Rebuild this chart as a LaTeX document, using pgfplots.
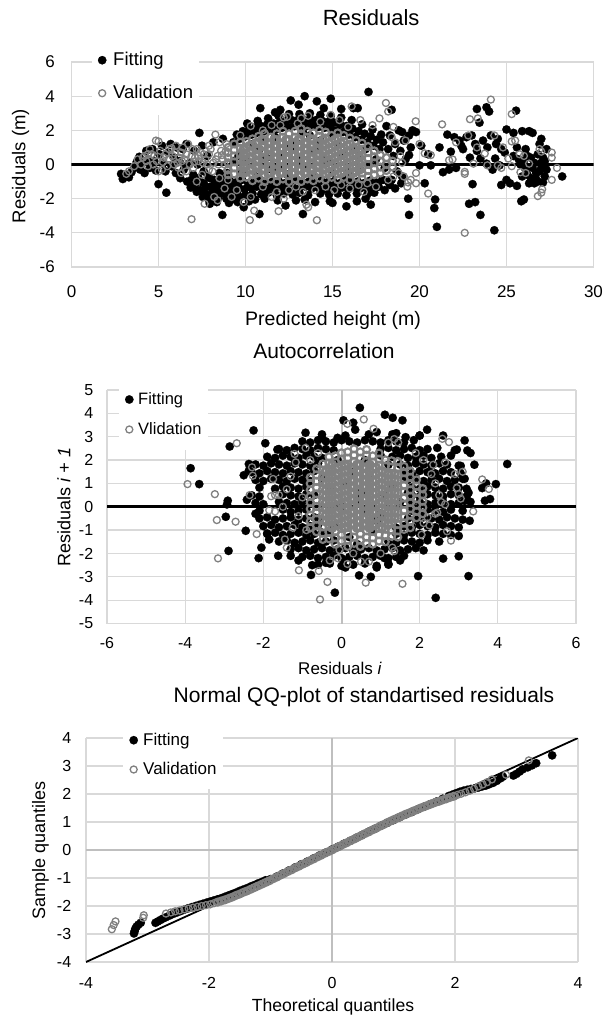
\documentclass[border=0pt]{standalone}
\usepackage{fontspec}
\setmainfont{Liberation Sans}
\usepackage{pgfplots}
\pgfplotsset{compat=1.18}
\definecolor{gridc}{RGB}{217,217,217}
\definecolor{valg}{RGB}{128,128,128}
\definecolor{axg}{RGB}{191,191,191}
\newcommand\fs[1]{\fontsize{#1}{#1}\selectfont}
\pgfplotsset{
  fitting/.style={only marks, mark=*, mark size=4.2pt, mark options={draw=black, fill=black, line width=0.2pt},
    legend image code/.code={\draw[##1] plot coordinates {(0pt,0pt)};}},
  validation/.style={only marks, mark=o, mark size=3.5pt, mark options={draw=valg, line width=1.3pt},
    legend image code/.code={\draw[##1] plot coordinates {(0pt,0pt)};}},
  valcore/.style={validation, forget plot, mark options={draw=valg, line width=2.1pt}},
  valcoreb/.style={validation, forget plot, mark size=3.6pt, mark options={draw=valg, line width=3pt}},
  myaxis/.style={scale only axis, axis line style={draw=none}, major tick length=0pt, tick style={draw=none},
    grid=major, major grid style={draw=gridc, line width=1.3pt},
    /pgf/number format/assume math mode=true, legend cell align=left},
}
\begin{document}
\begin{tikzpicture}
\path[use as bounding box] (0,0) rectangle (605pt,-1015pt);
%================ PANEL 1 =================
\begin{axis}[myaxis, at={(71.5pt,-267pt)}, anchor=south west, width=522pt, height=205pt,
  xmin=0, xmax=30, ymin=-6, ymax=6, xtick={0,5,...,30}, ytick={-6,-4,...,6},
  tick label style={font=\fs{17}},
  xticklabel style={anchor=center, yshift=-25pt},
  yticklabel style={anchor=east, inner sep=0pt, xshift=-16.5pt},
  title={Residuals}, title style={at={(axis description cs:0.574,1.189)}, anchor=center, font=\fs{22}},
  xlabel={Predicted height (m)}, xlabel style={at={(axis description cs:0.501,-0.2585)}, anchor=center, font=\fs{19.5}},
  ylabel={Residuals (m)}, ylabel style={at={(axis description cs:-0.0977,0.4927)}, anchor=center, font=\fs{18.5}},
  legend style={draw=none, fill=white, inner xsep=6pt, inner ysep=5pt, column sep=6.8pt,
    font=\fs{18.5}, nodes={inner sep=0pt, text height=22pt, text depth=11pt},
    at={(0.0389,1.1146)}, anchor=north west}]
\addplot[black, line width=3pt, forget plot] coordinates {(0,0)(30,0)};
\addplot[fitting] coordinates {(2.85,-.55)(2.95,-.85)(3.1,-.6)(3.3,-.75)(3.45,-.45)(3.6,-.2)(3.75,.15)(3.9,.45)(3.95,-.3)(4.1,.1)(4.2,-.5)(4.3,.8)(4.4,.3)(4.5,-.2)(4.65,.9)(4.75,.2)(4.85,-.35)(5,-1.15)(5.05,.6)(5.2,1.1)(5.25,.05)(5.45,-1.65)(5.4,-.4)(5.55,.7)(5.7,1.2)(5.75,-.1)(5.9,.4)(6,-.5)(6.05,1)(6.2,.2)(6.25,-.8)(6.4,.9)(6.45,-.3)(6.6,1.2)(6.65,-1)(6.8,.1)(6.85,-1.35)(7,-.6)(7.05,.8)(7.2,-1.6)(7.25,0)(7.35,1.85)(7.4,-1)(7.5,1.1)(7.55,-1.9)(7.6,-.4)(7.75,-1.3)(7.8,.5)(7.9,-2.1)(7.95,-.8)(8.1,-1.6)(8.15,1.3)(8.3,-1.1)(8.35,-2.2)(8.5,-.5)(8.55,-1.7)(8.67,-2.95)(8.7,1.5)(8.75,-1.2)(8.9,-2)(8.95,-.7)};
\addlegendentry{Fitting}
\addplot[fitting, forget plot] coordinates {(6.9,-.9)(7.1,-1.2)(7.3,-.8)(7.4,-1.5)(7.6,-1.1)(7.7,-1.7)(7.85,-.7)(8,-1.3)(8.05,-1.95)(8.2,-.9)(8.25,-1.5)(8.4,-1.25)(8.45,-1.9)(8.6,-.9)(8.65,-1.45)(8.8,-1.7)(8.85,-1.1)(9,-1.45)(9.05,-2.25)(9.2,-1.1)(9.3,-1.75)(9.55,-2.2)(9.7,-1.9)(8.95,-.5)(7.95,-2.3)
(9.1,-.95)(9.45,-1.05)(9.8,-.9)(10.15,-1.1)(10.5,-1)(10.85,-.9)(11.2,-1.1)(11.55,-1)(11.9,-.95)(12.25,-1.1)(12.6,-1)(12.95,-.9)(13.3,-1.05)(13.65,-1)(14,-1.1)(14.35,-.95)(14.7,-1.05)(15.05,-1)(15.4,-1.1)(15.75,-.95)(16.1,-1.05)(16.45,-1)(16.8,-1.1)(17.15,-.95)(17.5,-1.05)(17.85,-.9)(18.2,-1)
(9.25,-1.4)(9.6,-1.3)(9.95,-1.45)(10.3,-1.35)(10.65,-1.3)(11,-1.45)(11.35,-1.35)(11.7,-1.4)(12.05,-1.3)(12.4,-1.45)(12.75,-1.35)(13.1,-1.4)(13.45,-1.3)(13.8,-1.4)(14.15,-1.35)(14.5,-1.45)(14.85,-1.3)(15.2,-1.4)(15.55,-1.35)(15.9,-1.45)(16.25,-1.3)(16.6,-1.4)(16.95,-1.35)(17.3,-1.45)(17.65,-1.3)(18,-1.5)
(9.1,-1.75)(9.5,-1.65)(10,-1.8)(10.4,-1.7)(10.9,-1.75)(11.3,-1.65)(11.8,-1.8)(12.2,-1.7)(12.7,-1.75)(13.1,-1.65)(13.6,-1.8)(14.3,-1.7)(14.8,-1.75)(15.3,-1.7)(15.8,-1.8)(16.4,-1.7)(17,-1.75)(17.4,-1.65)(18.3,-1.2)(18.6,-1.4)
(9.4,-2.05)(10.2,-2.15)(11.1,-2)(11.85,-2.1)(12.3,-2.4)(12.9,-2.1)(14,-2.2)(14.85,-2.15)(15,-2.25)(15.8,-2.45)(16.4,-2.15)(17.2,-2.35)(9.9,-2.5)(10.8,-2.9)(13.3,-2.9)(10.55,-2.05)(13.4,-2.05)(16.9,-2)
(9.3,1.3)(9.65,1.5)(10,1.65)(10.35,1.75)(10.7,1.85)(11.05,1.95)(11.4,2)(11.75,2.05)(12.1,2.15)(12.45,2.2)(12.8,2.25)(13.15,2.25)(13.5,2.25)(13.85,2.25)(14.2,2.2)(14.55,2.15)(14.9,2.1)(15.25,2)(15.6,1.9)(15.95,1.75)(16.3,1.6)(16.65,1.45)(17,1.3)(17.35,1.1)(17.7,.9)
(9.5,1.75)(9.85,1.95)(10.2,2.05)(10.55,2.15)(10.9,2.25)(11.25,2.35)(11.6,2.4)(11.95,2.45)(12.3,2.55)(12.65,2.6)(13,2.6)(13.35,2.6)(13.7,2.65)(14.05,2.6)(14.4,2.55)(14.75,2.5)(15.1,2.45)(15.45,2.35)(15.8,2.25)(16.15,2.1)(16.5,1.95)(16.85,1.8)(17.2,1.65)(17.55,1.45)(17.9,1.3)
(10.1,2.4)(10.7,2.55)(11.3,2.7)(11.9,2.85)(12.5,2.95)(13.1,2.95)(13.7,3)(14.3,2.9)(14.9,2.85)(15.5,2.75)(16.1,2.6)(16.7,2.35)(17.3,2.05)(17.8,1.75)(18.1,2.25)(18.3,1.7)
(10.85,3.3)(11.7,3.05)(12.6,3.75)(13.05,3.5)(13.4,4)(14.1,3.7)(14.9,3.85)(16.45,3.3)(17.07,4.25)(18.4,3.2)(15.5,3.25)(16.2,3.3)(12,3.2)(14.5,3.3)
(17.9,-.9)(18.2,.9)(18.5,.5)(18.6,1.2)(18.7,-.4)(18.8,2)(18.9,.8)(19,-.7)(19.1,1.4)(19.2,.3)(19,1.9)(19.4,1.7)(19.6,2)(19.8,1.9)(19.4,.55)(19.5,1)(18.4,-.9)(18.95,-1.1)
(19.35,-2)(19.4,-2.95)(20.85,-2.55)(20.9,-2.05)(21,-3.65)
(10,.3)(10.8,.9)(11.5,-.3)(12.2,.6)(12.9,1.3)(13.4,-.2)(14,.8)(14.7,.1)(15.3,1.2)(15.9,-.4)(16.5,.5)(17.1,0)(11,1.4)(13.7,1.7)(12.4,-.6)(15,-.5)(16.2,1)(9.6,.5)
(9.3,.2)(9.8,-.4)(10.4,1.2)(10.6,-.7)(11.2,.4)(11.7,1.6)(12,-.2)(12.6,1)(13.1,.3)(13.3,1.9)(13.9,-.6)(14.3,1.4)(14.5,.4)(15,1.7)(15.6,.6)(15.8,-.8)(16.6,-.3)(16.9,.9)(17.5,.3)(18,-.2)
(20,-.05)(20.1,1.1)(20.3,-1.1)(20.5,.6)(20.65,-.05)(21.15,1)(21.35,-.45)(21.6,1.75)(21.7,-.3)(21.8,.75)(22,1.6)(22.1,-.2)(22.3,1.4)(22.4,1.1)(22.5,.9)(22.7,1.6)(22.9,.4)(23,1.7)(23.05,-1.15)(23.2,1.2)(22.85,-2.3)(23.2,-2.2)(23.3,3.25)(23.3,.8)(23.45,2.45)(23.5,-2.95)(23.5,.35)(23.65,1.4)(23.85,3.35)(23.85,.05)(23.9,1)(24,3.1)(24.1,1.7)(24.2,-.3)(24.3,-3.85)(24.35,.35)(24.4,1.2)(24.5,1.5)(24.6,-.05)(24.7,.9)(24.7,-1.2)(24.9,.7)(25,2.05)(25,-.9)(25.2,-1.1)(25.4,1.85)(25.4,.5)(25.55,3.15)(25.6,-1.25)(25.6,1)(25.7,.3)(25.8,0)(25.85,-2.15)(25.9,1.95)(25.9,-.7)(26,-2.05)(26,.2)(26.1,-.3)(26.1,.9)(26.2,.5)(26.2,-.6)(26.3,1.95)(26.3,-1.1)(26.4,-.8)(26.4,.4)(26.5,1.85)(26.5,-.2)(26.6,.1)(26.6,-1.1)(26.7,-.5)(26.7,-.85)(26.8,-1)(26.8,.6)(26.9,1.2)(26.9,-.4)(27,1.5)(27,-.2)(27,.1)(27.1,.4)(27.1,-1.05)(27.2,-.7)(27.2,.2)(27.3,.9)(27.3,-.3)(28.2,-.7)};
\addplot[validation] coordinates {(3.15,-.55)(3.3,-.4)(3.6,-.1)(3.8,.3)(4,0)(4.2,.5)(4.3,.2)(4.4,-.1)(4.5,.9)(4.6,.6)(4.7,0)(4.85,1.4)(5,1.35)(4.9,.2)(5.1,.8)(5.2,-.3)(5.3,.4)(5.4,.6)(5.5,-.1)(5.6,.9)(5.8,.5)(5.9,0)(6,1.1)(6.1,.1)(6.2,.4)(6.3,.7)(6.4,1)(6.5,.3)(6.6,-.4)(6.7,1.2)(6.8,0)(6.9,.5)(7,-.2)(7.1,.4)(7.2,.9)(7.3,.2)(7.4,.7)(7.5,-.6)(7.6,.6)(7.7,.3)(7.8,0)(7.9,-.3)(8,.9)(8.1,-.4)(8.27,1.75)(8.3,.3)(8.4,.5)(8.5,-.8)(8.6,.8)(8.7,.3)(8.8,0)(8.9,1.2)(6.9,-3.2)(7.65,-2.3)(8.8,-1.4)(9,-.9)(7.2,-1)(8.2,-1.9)(8.4,-2.1)(7.9,1.1)(8.5,1.3)(6.3,-.5)(5,-.4)
(4.1,.4)(4.4,.6)(4.75,.5)(5.25,.15)(5.6,.35)(5.95,.7)(6.35,.2)(6.6,.6)(6.95,.9)(7.3,.5)(7.55,.1)(7.9,.6)(8.15,.1)(8.45,0)(8.65,.55)(8.85,.75)(8.95,-.35)(5.75,.95)(6.15,-.2)(7.05,.15)};
\addlegendentry{Validation}
\addplot[valcore] coordinates {(9,-.6)(9,-.3)(9,.1)(9,.4)(9,.7)(9,1)
(9.35,-.55)(9.35,-.2)(9.35,.15)(9.35,.5)(9.35,.85)(9.35,1.2)
(9.7,-.8)(9.7,-.45)(9.7,-.1)(9.7,.25)(9.7,.6)(9.7,.95)(9.7,1.3)
(10.05,-.75)(10.05,-.4)(10.05,-.05)(10.05,.3)(10.05,.65)(10.05,1)(10.05,1.35)
(10.4,-.95)(10.4,-.6)(10.4,-.25)(10.4,.1)(10.4,.45)(10.4,.8)(10.4,1.15)(10.4,1.5)
(10.75,-.8)(10.75,-.45)(10.75,-.1)(10.75,.25)(10.75,.6)(10.75,.95)(10.75,1.3)(10.75,1.65)
(11.1,-1)(11.1,-.65)(11.1,-.3)(11.1,.05)(11.1,.4)(11.1,.75)(11.1,1.1)(11.1,1.45)(11.1,1.8)
(11.45,-.85)(11.45,-.5)(11.45,-.15)(11.45,.2)(11.45,.55)(11.45,.9)(11.45,1.25)(11.45,1.6)
(11.8,-1)(11.8,-.65)(11.8,-.3)(11.8,.05)(11.8,.4)(11.8,.75)(11.8,1.1)(11.8,1.45)(11.8,1.8)
(12.15,-.85)(12.15,-.5)(12.15,-.15)(12.15,.2)(12.15,.55)(12.15,.9)(12.15,1.25)(12.15,1.6)(12.15,1.95)
(12.5,-1)(12.5,-.65)(12.5,-.3)(12.5,.05)(12.5,.4)(12.5,.75)(12.5,1.1)(12.5,1.45)(12.5,1.8)
(12.85,-.85)(12.85,-.5)(12.85,-.15)(12.85,.2)(12.85,.55)(12.85,.9)(12.85,1.25)(12.85,1.6)(12.85,1.95)
(13.2,-1)(13.2,-.65)(13.2,-.3)(13.2,.05)(13.2,.4)(13.2,.75)(13.2,1.1)(13.2,1.45)(13.2,1.8)(13.2,2.1)
(13.55,-.85)(13.55,-.5)(13.55,-.15)(13.55,.2)(13.55,.55)(13.55,.9)(13.55,1.25)(13.55,1.6)(13.55,1.95)
(13.9,-.95)(13.9,-.6)(13.9,-.25)(13.9,.1)(13.9,.45)(13.9,.8)(13.9,1.15)(13.9,1.5)(13.9,1.85)
(14.25,-.8)(14.25,-.45)(14.25,-.1)(14.25,.25)(14.25,.6)(14.25,.95)(14.25,1.3)(14.25,1.65)(14.25,2)
(14.6,-.9)(14.6,-.55)(14.6,-.2)(14.6,.15)(14.6,.5)(14.6,.85)(14.6,1.2)(14.6,1.55)(14.6,1.9)
(14.95,-.75)(14.95,-.4)(14.95,-.05)(14.95,.3)(14.95,.65)(14.95,1)(14.95,1.35)(14.95,1.7)
(15.3,-.9)(15.3,-.55)(15.3,-.2)(15.3,.15)(15.3,.5)(15.3,.85)(15.3,1.2)(15.3,1.55)(15.3,1.85)
(15.65,-.75)(15.65,-.4)(15.65,-.05)(15.65,.3)(15.65,.65)(15.65,1)(15.65,1.35)(15.65,1.7)
(16,-.9)(16,-.55)(16,-.2)(16,.15)(16,.5)(16,.85)(16,1.2)(16,1.55)
(16.35,-.75)(16.35,-.4)(16.35,-.05)(16.35,.3)(16.35,.65)(16.35,1)(16.35,1.4)
(16.7,-.85)(16.7,-.5)(16.7,-.15)(16.7,.2)(16.7,.55)(16.7,.9)(16.7,1.25)
(17.05,-.7)(17.05,-.35)(17.05,0)(17.05,.35)(17.05,.7)(17.05,1.05)
(17.4,-.6)(17.4,-.25)(17.4,.1)(17.4,.45)(17.4,.8)
(17.75,-.5)(17.75,-.15)(17.75,.2)(17.75,.55)
(18.1,-.35)(18.1,0)(18.1,.4)(18.45,-.15)(18.45,.2)};
\addplot[valcoreb] coordinates {(9.9,-.5)(9.9,-.15)(9.9,.2)(9.9,.55)(9.9,.9)
(10.25,-.3)(10.25,.05)(10.25,.4)(10.25,.75)(10.25,1.1)
(10.6,-.5)(10.6,-.15)(10.6,.2)(10.6,.55)(10.6,.9)(10.6,1.25)
(10.95,-.3)(10.95,.05)(10.95,.4)(10.95,.75)(10.95,1.1)(10.95,1.45)
(11.3,-.5)(11.3,-.15)(11.3,.2)(11.3,.55)(11.3,.9)(11.3,1.25)
(11.65,-.3)(11.65,.05)(11.65,.4)(11.65,.75)(11.65,1.1)(11.65,1.45)
(12,-.5)(12,-.15)(12,.2)(12,.55)(12,.9)(12,1.25)
(12.35,-.3)(12.35,.05)(12.35,.4)(12.35,.75)(12.35,1.1)(12.35,1.45)
(12.7,-.5)(12.7,-.15)(12.7,.2)(12.7,.55)(12.7,.9)(12.7,1.25)
(13.05,-.3)(13.05,.05)(13.05,.4)(13.05,.75)(13.05,1.1)(13.05,1.45)
(13.4,-.5)(13.4,-.15)(13.4,.2)(13.4,.55)(13.4,.9)(13.4,1.25)
(13.75,-.3)(13.75,.05)(13.75,.4)(13.75,.75)(13.75,1.1)(13.75,1.45)
(14.1,-.5)(14.1,-.15)(14.1,.2)(14.1,.55)(14.1,.9)(14.1,1.25)
(14.45,-.3)(14.45,.05)(14.45,.4)(14.45,.75)(14.45,1.1)(14.45,1.45)
(14.8,-.5)(14.8,-.15)(14.8,.2)(14.8,.55)(14.8,.9)(14.8,1.25)
(15.15,-.3)(15.15,.05)(15.15,.4)(15.15,.75)(15.15,1.1)(15.15,1.45)
(15.5,-.5)(15.5,-.15)(15.5,.2)(15.5,.55)(15.5,.9)(15.5,1.25)
(15.85,-.3)(15.85,.05)(15.85,.4)(15.85,.75)(15.85,1.1)
(16.2,-.5)(16.2,-.15)(16.2,.2)(16.2,.55)(16.2,.9)
(16.55,-.3)(16.55,.05)(16.55,.4)(16.55,.75)};
\addplot[validation, forget plot] coordinates {(10.3,2.25)(11,2)(11.5,2.3)(12.2,2.75)(12.4,2.8)(13.2,2.7)(13.6,2.85)(14.3,2.5)(14.9,2.9)(15.4,2.6)(16.1,3.4)(16.6,2.6)(17.3,2.3)(18.07,3.6)(18.2,3.1)(17.7,2.7)(9.7,1.7)(13,2.4)(15.9,2.2)(12,2.3)
(9.5,-1.5)(9.9,-2.2)(10.3,-1.9)(10.5,-2.7)(10.25,-3.25)(11,-1.3)(11.5,-1.9)(11.9,-2.73)(11.8,-1.6)(12.5,-1.5)(12.9,-1.3)(13.3,-1.6)(13.5,-2.35)(13.6,-2.5)(14.1,-3.26)(14,-1.5)(14.6,-1.3)(15.1,-1.5)(15.5,-1.2)(16,-1.4)(16.5,-1.2)(17,-1.1)(17.5,-1.3)(16.8,-1.6)(9.2,-1.9)(12.2,-2)
(18.2,-.9)(18.5,-.7)(18.6,1.3)(18.9,.5)(18.8,-.5)(19.1,-.7)(19.2,1.4)(19.35,-1.05)(19.3,-1.3)(19.5,-.9)(19.8,-.5)(19.8,-1.1)(19.78,2.53)(20,1.2)(20.3,.65)(20.5,-1.7)(20.65,.55)(21.3,2.35)(21.7,.25)(21.9,.3)(22.1,1.3)(22.6,-.43)(22.6,-.55)(22.8,1.7)(22.9,2.65)(23.1,.05)(23.3,1)(23.35,2.7)(23.75,.64)(23.9,-.05)(24.1,3.8)(24.3,1.7)(24.5,-.05)(24.7,-.2)(24.8,1)(25.1,.35)(25.3,1.35)(25.5,1.4)(25.3,2.95)(25.3,-.1)(25.75,.6)(25.8,-.45)(26,.5)(26.1,-.5)(26.3,.05)(26.9,.9)(27,.75)(27.6,.7)(27.6,.4)(27.9,-.2)(27.6,-.9)(27.05,-1.45)(27,-1.65)(26.8,-1.85)(22.6,-4)(18.4,1.6)(18.5,2.2)(19,.1)};
\end{axis}
%================ PANEL 2 =================
\begin{axis}[myaxis, at={(107pt,-623.5pt)}, anchor=south west, width=469pt, height=233.5pt,
  xmin=-6, xmax=6, ymin=-5, ymax=5, xtick={-6,-4,...,6}, ytick={-5,-4,...,5},
  tick label style={font=\fs{16}},
  xticklabel style={anchor=center, yshift=-19.5pt},
  yticklabel style={anchor=east, inner sep=0pt, xshift=-13.6pt},
  title={Autocorrelation}, title style={at={(axis description cs:0.4627,1.1426)}, anchor=center, font=\fs{21}},
  xlabel={Residuals \textit{i}}, xlabel style={at={(axis description cs:0.4968,-0.1906)}, anchor=center, font=\fs{17}},
  ylabel={Residuals \textit{i + 1}}, ylabel style={at={(axis description cs:-0.0917,0.4989)}, anchor=center, font=\fs{18}},
  legend style={draw=none, fill=white, inner xsep=6pt, inner ysep=5pt, column sep=4.7pt,
    font=\fs{16.5}, nodes={inner sep=0pt, text height=20pt, text depth=10pt},
    at={(0.0254,1.0458)}, anchor=north west}]
\addplot[axg, line width=2pt, forget plot] coordinates {(0,-5)(0,5)};
\addplot[black, line width=3pt, forget plot] coordinates {(-6,0)(6,0)};
\addplot[fitting] coordinates {(4.24,1.83)(-3.86,1.65)(-3.64,.97)(-2.25,3.27)(-2.86,2.58)(-1.95,2.72)(-2.91,.26)(-2.93,.1)(-2.96,-.43)(-2.89,-1.89)(-2.12,-2.2)(-2.05,-1.75)(-1.62,-2.1)(-.78,-2.92)(-.17,-3.68)(.45,-2.94)(.75,-3)(1.96,-2.97)(2.41,-3.9)(3.25,-2.97)(3,-2.12)(2.6,-2.22)(3,-1.25)(3.28,-.6)(3.8,.33)(3.67,.26)(3.95,.97)(3.6,.8)(3.1,1.2)(3.05,1.75)(3.22,2.41)(3.15,2.84)(2.95,2.45)(2.6,3.05)(2,3.05)(2.19,3.3)(1.56,3.7)(1.31,3.81)(1.11,3.94)(.47,4.24)(.05,3.7)(.3,3.6)(.35,3.3)(-.92,3.17)(-.5,2.95)(1.64,2.98)(-1.64,2.45)(-2.37,1.83)(-2.37,1.55)(-2.5,1.35)(-2.42,.3)(-2.45,-1.03)(-2.2,-.3)(-1.9,-1.15)(-1.85,-1.4)(-1.3,-2.1)(-1.1,-2.3)(-.75,-2.5)(-.4,-2.4)(.05,-2.3)(1.2,-2.45)(1.5,-2.3)(3.15,.25)(3.25,.6)(3.4,1.8)(3.3,2.3)(3.7,1)(.1,-2.6)(.9,-2.6)(1.1,-2.2)(-.1,2.95)(.9,3.2)(1.3,3.1)(-.5,3.1)(.1,3.05)(.7,3.1)(1.4,3.15)(2,3.05)};
\addlegendentry{Fitting}
\addplot[fitting, forget plot] coordinates {(-1,2.8)(-.8,2.75)(-.6,2.85)(-.4,2.8)(-.2,2.75)(0,2.85)(.2,2.8)(.4,2.75)(.6,2.85)(.8,2.8)(1,2.75)(1.2,2.85)(1.4,2.8)(1.6,2.75)(1.85,2.85)
(-1.6,2.47)(-1.4,2.42)(-1.2,2.52)(-1,2.47)(-.8,2.42)(-.6,2.52)(-.4,2.47)(-.2,2.42)(1,2.47)(1.2,2.52)(1.4,2.42)(1.6,2.47)(1.8,2.52)(2,2.42)(2.2,2.47)(2.45,2.52)(2.9,2.42)
(-1.9,2.14)(-1.7,2.09)(-1.5,2.19)(-1.3,2.14)(-1.1,2.09)(-.9,2.19)(-.7,2.14)(-.5,2.09)(1.3,2.14)(1.5,2.19)(1.7,2.09)(1.9,2.14)(2.1,2.19)(2.3,2.09)(2.55,2.14)(2.8,2.19)
(-2.2,1.81)(-2,1.76)(-1.8,1.86)(-1.6,1.81)(-1.4,1.76)(-1.2,1.86)(-1,1.81)(-.8,1.76)(-.6,1.86)(1.5,1.81)(1.7,1.76)(1.9,1.86)(2.1,1.81)(2.3,1.76)(2.5,1.86)(2.7,1.81)(3,1.76)
(-2.3,1.48)(-2.1,1.43)(-1.9,1.53)(-1.7,1.48)(-1.5,1.43)(-1.3,1.53)(-1.1,1.48)(-.9,1.43)(-.7,1.53)(1.6,1.48)(1.8,1.43)(2,1.53)(2.2,1.48)(2.4,1.43)(2.6,1.53)(2.8,1.48)(3.05,1.43)
(-2.2,1.15)(-2,1.1)(-1.8,1.2)(-1.6,1.15)(-1.4,1.1)(-1.2,1.2)(-1,1.15)(-.8,1.1)(1.7,1.15)(1.9,1.2)(2.1,1.1)(2.3,1.15)(2.5,1.2)(2.7,1.1)(2.9,1.15)(3.15,1.2)
(-2.1,.82)(-1.7,.77)(-1.5,.87)(-1.3,.82)(-1.1,.77)(-.9,.87)(1.8,.82)(2,.77)(2.2,.87)(2.4,.82)(2.6,.77)(2.8,.87)(3,.82)(3.2,.77)
(-2.3,.49)(-2.1,.44)(-1.5,.54)(-1.3,.49)(-1.1,.44)(-.9,.54)(1.8,.49)(2,.44)(2.2,.54)(2.4,.49)(2.6,.44)(2.8,.54)(3,.49)(3.2,.44)
(-2.2,.16)(-2,.11)(-1.6,.21)(-1.4,.16)(-1.2,.11)(-1,.21)(-.8,.16)(1.8,.16)(2,.21)(2.2,.11)(2.4,.16)(2.6,.21)(2.8,.11)(3,.16)(3.3,.21)
(-2.1,-.17)(-1.5,-.12)(-1.3,-.22)(-1.1,-.17)(-.9,-.12)(1.8,-.17)(2,-.22)(2.2,-.12)(2.4,-.17)(2.6,-.22)(2.8,-.12)(3.1,-.17)
(-2.1,-.5)(-1.9,-.45)(-1.7,-.55)(-1.5,-.5)(-1.3,-.45)(-1.1,-.55)(-.9,-.5)(-.7,-.45)(1.7,-.5)(1.9,-.55)(2.1,-.45)(2.3,-.5)(2.5,-.55)(2.7,-.45)(2.9,-.5)(3.1,-.55)
(-2,-.83)(-1.8,-.78)(-1.6,-.88)(-1.4,-.83)(-1.2,-.78)(-1,-.88)(-.8,-.83)(-.6,-.78)(1.6,-.83)(1.8,-.88)(2,-.78)(2.2,-.83)(2.4,-.88)(2.6,-.78)(2.8,-.83)(3,-.88)
(-1.9,-1.16)(-1.7,-1.11)(-1.5,-1.21)(-1.3,-1.16)(-1.1,-1.11)(-.9,-1.21)(-.7,-1.16)(-.5,-1.11)(1.4,-1.16)(1.6,-1.21)(1.8,-1.11)(2,-1.16)(2.2,-1.21)(2.4,-1.11)(2.6,-1.16)(2.8,-1.21)
(-1.6,-1.49)(-1.4,-1.44)(-1.2,-1.54)(-1,-1.49)(-.8,-1.44)(-.6,-1.54)(-.4,-1.49)(-.2,-1.44)(1.2,-1.49)(1.4,-1.54)(1.6,-1.44)(1.8,-1.49)(2,-1.54)(2.2,-1.44)(2.5,-1.49)
(-1.3,-1.82)(-1.1,-1.77)(-.9,-1.87)(-.7,-1.82)(-.5,-1.77)(-.3,-1.87)(-.1,-1.82)(.1,-1.77)(.3,-1.87)(.5,-1.82)(.7,-1.77)(.9,-1.87)(1.1,-1.82)(1.3,-1.77)(1.5,-1.87)(1.7,-1.82)(1.9,-1.77)(2.1,-1.87)
(-1,-2.15)(-.8,-2.1)(-.6,-2.2)(-.4,-2.15)(-.2,-2.1)(0,-2.2)(.2,-2.15)(.4,-2.1)(.6,-2.2)(.8,-2.15)(1,-2.1)(1.2,-2.2)(1.4,-2.15)(1.6,-2.1)
(-.6,-2.48)(-.3,-2.43)(0,-2.53)(.3,-2.48)(.6,-2.43)(.9,-2.53)(1.2,-2.48)
(0,0)(.5,.6)(1,-.3)(.3,1.5)(-.3,.8)(1.3,.9)(.8,-1)(-.2,-.8)(.6,2)(1.5,.2)
(-.5,1.2)(-.6,-.5)(-.1,2)(.2,-1.3)(.4,.3)(.7,1.2)(.9,-.6)(1.1,.5)(1.2,1.8)(1.4,-.9)(1.7,.6)(-.3,-1.1)(.1,1)(.6,-.2)(1.6,1.3)(-.7,.5)(.4,-1.6)(1,2.2)};
\addplot[validation] coordinates {(-3.94,.97)(-3.24,.54)(-3.19,-.57)(-2.71,-.64)(-3.16,-2.21)(-2.68,2.72)(-2.29,1.69)(-2.27,1.33)(-2.35,.5)(-2.17,-1.17)(-1.75,1.19)(-1.8,.45)(-1.7,.5)(-1.6,.5)(-1.85,-.15)(-1.7,-.2)(-1.4,.75)(-1.45,-1.4)(-1.4,-1.75)(-1.2,2.26)(-1.17,1.9)(-.92,2.52)(-1.09,-2.72)(-.58,-2.75)(-.55,-3.97)(-.36,-3.22)(.57,3.74)(.82,3.34)(.15,3.55)(1.2,2.75)(1.35,2.9)(1.45,2.75)(2.58,2.91)(2.75,2.77)(2.65,1.9)(2.9,1.4)(3,.55)(3.05,.35)(3.37,-.2)(3.6,1.17)(3.77,.76)(2.7,-1.05)(2.8,-1.45)(.5,-2.35)(.15,-2.45)(-.1,-2.2)(.62,-3.25)(.7,-2.35)(1.56,-3.3)(1.35,-1.9)(1.3,-1.75)(2.1,-.7)(2.25,-.8)(2.05,-1.2)(-.05,-1.85)(-.3,-2.3)(2.3,1.4)(2.4,1)(2.5,.5)(2.55,.2)(2.4,-.3)(2.2,-.45)(2.35,1.8)(2.65,.1)(2.45,-.25)(-1.3,1.3)(-1,.4)(-1.1,-.4)(-.9,-1)(-1.5,0)(1.9,2.3)(2.1,2)(-.6,2.3)(-.8,2)(1,-2)(.3,-2)(-1.25,-.9)(3.1,1.5)(2.95,.8)};
\addlegendentry{Vlidation}
\addplot[valcore] coordinates {(-.8,-.9)(-.8,-.63)(-.8,-.36)(-.8,-.09)(-.8,.18)(-.8,.45)(-.8,.72)(-.8,.99)(-.8,1.26)
(-.64,-1.07)(-.64,-.8)(-.64,-.53)(-.64,-.26)(-.64,.01)(-.64,.28)(-.64,.55)(-.64,.82)(-.64,1.09)(-.64,1.36)(-.64,1.63)
(-.48,-1.4)(-.48,-1.13)(-.48,-.86)(-.48,-.59)(-.48,-.32)(-.48,-.05)(-.48,.22)(-.48,.49)(-.48,.76)(-.48,1.03)(-.48,1.3)(-.48,1.57)(-.48,1.84)
(-.32,-1.37)(-.32,-1.1)(-.32,-.83)(-.32,-.56)(-.32,-.29)(-.32,-.02)(-.32,.25)(-.32,.52)(-.32,.79)(-.32,1.06)(-.32,1.33)(-.32,1.6)(-.32,1.87)(-.32,2.14)
(-.16,-1.6)(-.16,-1.33)(-.16,-1.06)(-.16,-.79)(-.16,-.52)(-.16,-.25)(-.16,.02)(-.16,.29)(-.16,.56)(-.16,.83)(-.16,1.1)(-.16,1.37)(-.16,1.64)(-.16,1.91)(-.16,2.18)
(0,-1.47)(0,-1.2)(0,-.93)(0,-.66)(0,-.39)(0,-.12)(0,.15)(0,.42)(0,.69)(0,.96)(0,1.23)(0,1.5)(0,1.77)(0,2.04)(0,2.31)
(.16,-1.7)(.16,-1.43)(.16,-1.16)(.16,-.89)(.16,-.62)(.16,-.35)(.16,-.08)(.16,.19)(.16,.46)(.16,.73)(.16,1)(.16,1.27)(.16,1.54)(.16,1.81)(.16,2.08)(.16,2.35)
(.32,-1.57)(.32,-1.3)(.32,-1.03)(.32,-.76)(.32,-.49)(.32,-.22)(.32,.05)(.32,.32)(.32,.59)(.32,.86)(.32,1.13)(.32,1.4)(.32,1.67)(.32,1.94)(.32,2.21)(.32,2.48)
(.48,-1.7)(.48,-1.43)(.48,-1.16)(.48,-.89)(.48,-.62)(.48,-.35)(.48,-.08)(.48,.19)(.48,.46)(.48,.73)(.48,1)(.48,1.27)(.48,1.54)(.48,1.81)(.48,2.08)(.48,2.35)
(.64,-1.57)(.64,-1.3)(.64,-1.03)(.64,-.76)(.64,-.49)(.64,-.22)(.64,.05)(.64,.32)(.64,.59)(.64,.86)(.64,1.13)(.64,1.4)(.64,1.67)(.64,1.94)(.64,2.21)(.64,2.45)
(.8,-1.6)(.8,-1.33)(.8,-1.06)(.8,-.79)(.8,-.52)(.8,-.25)(.8,.02)(.8,.29)(.8,.56)(.8,.83)(.8,1.1)(.8,1.37)(.8,1.64)(.8,1.91)(.8,2.18)
(.96,-1.47)(.96,-1.2)(.96,-.93)(.96,-.66)(.96,-.39)(.96,-.12)(.96,.15)(.96,.42)(.96,.69)(.96,.96)(.96,1.23)(.96,1.5)(.96,1.77)(.96,2.04)(.96,2.3)
(1.12,-1.5)(1.12,-1.23)(1.12,-.96)(1.12,-.69)(1.12,-.42)(1.12,-.15)(1.12,.12)(1.12,.39)(1.12,.66)(1.12,.93)(1.12,1.2)(1.12,1.47)(1.12,1.74)(1.12,2.01)
(1.28,-1.27)(1.28,-1)(1.28,-.73)(1.28,-.46)(1.28,-.19)(1.28,.08)(1.28,.35)(1.28,.62)(1.28,.89)(1.28,1.16)(1.28,1.43)(1.28,1.7)(1.28,1.97)
(1.44,-1.3)(1.44,-1.03)(1.44,-.76)(1.44,-.49)(1.44,-.22)(1.44,.05)(1.44,.32)(1.44,.59)(1.44,.86)(1.44,1.13)(1.44,1.4)(1.44,1.67)(1.44,1.94)
(1.6,-.97)(1.6,-.7)(1.6,-.43)(1.6,-.16)(1.6,.11)(1.6,.38)(1.6,.65)(1.6,.92)(1.6,1.19)(1.6,1.46)(1.6,1.73)
(1.76,-.9)(1.76,-.63)(1.76,-.36)(1.76,-.09)(1.76,.18)(1.76,.45)(1.76,.72)(1.76,.99)(1.76,1.26)(1.76,1.53)
(1.92,-.47)(1.92,-.2)(1.92,.07)(1.92,.34)(1.92,.61)(1.92,.88)(1.92,1.15)
(2.08,-.3)(2.08,-.03)(2.08,.24)(2.08,.51)(2.08,.78)};
\addplot[valcoreb] coordinates {(-.4,-.63)(-.4,-.36)(-.4,-.09)(-.4,.18)(-.4,.45)(-.4,.72)(-.4,.99)(-.4,1.26)(-.4,1.53)
(-.24,-.9)(-.24,-.63)(-.24,-.36)(-.24,-.09)(-.24,.18)(-.24,.45)(-.24,.72)(-.24,.99)(-.24,1.26)(-.24,1.53)(-.24,1.8)
(-.08,-.76)(-.08,-.49)(-.08,-.22)(-.08,.05)(-.08,.32)(-.08,.59)(-.08,.86)(-.08,1.13)(-.08,1.4)(-.08,1.67)
(.08,-.9)(.08,-.63)(.08,-.36)(.08,-.09)(.08,.18)(.08,.45)(.08,.72)(.08,.99)(.08,1.26)(.08,1.53)(.08,1.8)
(.24,-.76)(.24,-.49)(.24,-.22)(.24,.05)(.24,.32)(.24,.59)(.24,.86)(.24,1.13)(.24,1.4)(.24,1.67)
(.4,-.9)(.4,-.63)(.4,-.36)(.4,-.09)(.4,.18)(.4,.45)(.4,.72)(.4,.99)(.4,1.26)(.4,1.53)(.4,1.8)
(.56,-.76)(.56,-.49)(.56,-.22)(.56,.05)(.56,.32)(.56,.59)(.56,.86)(.56,1.13)(.56,1.4)(.56,1.67)
(.72,-.9)(.72,-.63)(.72,-.36)(.72,-.09)(.72,.18)(.72,.45)(.72,.72)(.72,.99)(.72,1.26)(.72,1.53)(.72,1.8)
(.88,-.76)(.88,-.49)(.88,-.22)(.88,.05)(.88,.32)(.88,.59)(.88,.86)(.88,1.13)(.88,1.4)(.88,1.67)
(1.04,-.9)(1.04,-.63)(1.04,-.36)(1.04,-.09)(1.04,.18)(1.04,.45)(1.04,.72)(1.04,.99)(1.04,1.26)(1.04,1.53)
(1.2,-.76)(1.2,-.49)(1.2,-.22)(1.2,.05)(1.2,.32)(1.2,.59)(1.2,.86)(1.2,1.13)(1.2,1.4)
(1.36,-.49)(1.36,-.22)(1.36,.05)(1.36,.32)(1.36,.59)(1.36,.86)(1.36,1.13)(1.36,1.4)};
\end{axis}
%================ PANEL 3 =================
\begin{axis}[myaxis, at={(86pt,-962pt)}, anchor=south west, width=492pt, height=224pt,
  xmin=-4, xmax=4, ymin=-4, ymax=4, xtick={-4,-2,...,4}, ytick={-4,-3,...,4},
  tick label style={font=\fs{16}},
  xticklabel style={anchor=center, yshift=-21pt},
  yticklabel style={anchor=east, inner sep=0pt, xshift=-14.6pt},
  title={Normal QQ-plot of standartised residuals}, title style={at={(axis description cs:0.565,1.156)}, anchor=center, font=\fs{21}},
  xlabel={Theoretical quantiles}, xlabel style={at={(axis description cs:0.502,-0.2009)}, anchor=center, font=\fs{17.6}},
  ylabel={Sample quantiles}, ylabel style={at={(axis description cs:-0.0925,0.5)}, anchor=center, font=\fs{18}},
  legend style={draw=none, fill=white, inner xsep=6pt, inner ysep=5pt, column sep=5.3pt,
    font=\fs{17}, nodes={inner sep=0pt, text height=19.75pt, text depth=9.55pt},
    at={(0.0758,1.0788)}, anchor=north west}]
\addplot[axg, line width=2pt, forget plot] coordinates {(0,-4)(0,4)};
\addplot[axg, line width=2pt, forget plot] coordinates {(-4,0)(4,0)};
\addplot[black, line width=1.8pt, forget plot] coordinates {(-4,-4)(4,4)};
\addplot[fitting] coordinates {(-3.22,-2.98)(-3.21,-2.9)(-3.2,-2.82)(-3.18,-2.74)(-3.15,-2.67)(-3.11,-2.6)(-2.87,-2.6)(-2.83,-2.55)(-2.79,-2.5)(-2.75,-2.45)(-2.7,-2.4)(-2.64,-2.34)(-2.58,-2.28)(-2.52,-2.23)(-2.46,-2.18)(-2.4,-2.13)(-2.34,-2.08)(-2.28,-2.04)(-2.22,-2)(-2.16,-1.96)(-2.1,-1.92)(-2.04,-1.88)(-1.98,-1.84)(-1.92,-1.8)(-1.86,-1.76)(-1.8,-1.72)(-1.74,-1.67)(-1.68,-1.62)(-1.62,-1.57)(-1.56,-1.52)(-1.5,-1.46)(-1.44,-1.41)(-1.38,-1.36)(-1.32,-1.3)(-1.26,-1.25)(-1.2,-1.19)(-1.14,-1.14)(-1.08,-1.08)(-1,-1.04)(-.9,-.95)(-.8,-.84)(-.7,-.73)(-.6,-.62)(-.5,-.51)(-.4,-.41)(-.3,-.3)(-.2,-.19)(-.1,-.09)(0,.02)(.1,.12)(.2,.23)(.3,.33)(.4,.44)(.5,.55)(.6,.66)(.7,.76)(.8,.87)(.9,.97)(1,1.07)(1.1,1.17)(1.2,1.27)(1.3,1.36)(1.4,1.46)(1.5,1.55)(1.6,1.64)(1.7,1.73)(1.8,1.83)(1.9,1.93)(1.96,1.98)(2.02,2.03)(2.08,2.08)(2.14,2.12)(2.2,2.15)(2.26,2.18)(2.32,2.2)(2.38,2.23)(2.44,2.27)(2.5,2.3)(2.56,2.35)(2.62,2.4)(2.68,2.47)(2.74,2.56)(2.78,2.62)(2.95,2.66)(3,2.72)(3.05,2.8)(3.1,2.88)(3.18,2.95)(3.25,3.02)(3.32,3.1)(3.58,3.38)};
\addlegendentry{Fitting}
\addplot[validation] coordinates {(-3.58,-2.83)(-3.55,-2.68)(-3.52,-2.55)(-3.07,-2.42)(-3.06,-2.33)(-2.7,-2.27)(-2.62,-2.23)(-2.55,-2.19)(-2.48,-2.16)(-2.4,-2.12)(-2.33,-2.09)(-2.26,-2.06)(-2.19,-2.03)(-2.12,-2)(-2.05,-1.97)(-1.98,-1.94)(-1.92,-1.9)(2.04,1.97)(2.1,2.01)(2.17,2.06)(2.24,2.12)(2.31,2.19)(2.38,2.27)(2.45,2.34)(2.52,2.42)(2.6,2.52)(2.83,2.69)(3.2,3.2)};
\addlegendentry{Validation}
\addplot[valcore] coordinates {(-1.86,-1.86)(-1.8,-1.82)(-1.74,-1.78)(-1.68,-1.73)(-1.62,-1.68)(-1.56,-1.62)(-1.5,-1.57)(-1.44,-1.51)(-1.38,-1.46)(-1.32,-1.4)(-1.26,-1.34)(-1.2,-1.28)(-1.14,-1.22)(-1.08,-1.16)(-1.02,-1.1)(-.96,-1.03)(-.9,-.97)(-.84,-.9)(-.78,-.84)(-.72,-.77)(-.66,-.71)(-.6,-.64)(-.54,-.58)(-.48,-.51)(-.42,-.45)(-.36,-.38)(-.3,-.32)(-.24,-.25)(-.18,-.19)(-.12,-.12)(-.06,-.06)(0,0)(.06,.07)(.12,.13)(.18,.2)(.24,.26)(.3,.33)(.36,.39)(.42,.46)(.48,.52)(.54,.59)(.6,.65)(.66,.72)(.72,.78)(.78,.85)(.84,.91)(.9,.98)(.96,1.04)(1.02,1.1)(1.08,1.16)(1.14,1.22)(1.2,1.28)(1.26,1.33)(1.32,1.39)(1.38,1.44)(1.44,1.5)(1.5,1.55)(1.56,1.6)(1.62,1.65)(1.68,1.7)(1.74,1.74)(1.8,1.79)(1.86,1.83)(1.92,1.88)(1.98,1.92)};
\end{axis}
\end{tikzpicture}
\end{document}
